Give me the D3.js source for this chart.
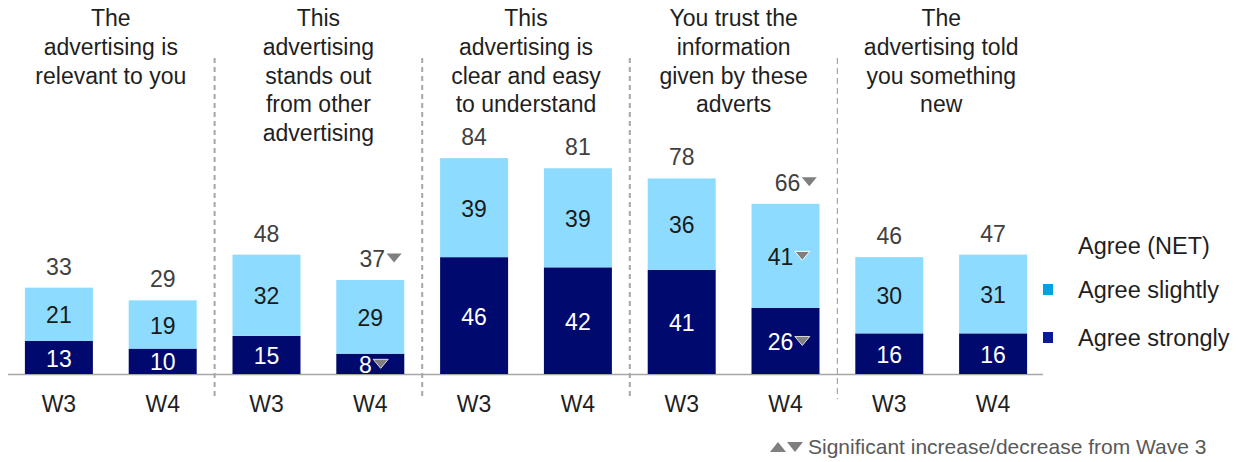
<!DOCTYPE html>
<html>
<head>
<meta charset="utf-8">
<script src="https://cdn.jsdelivr.net/npm/d3@7"></script>
<style>
  html, body { margin: 0; padding: 0; background: #fff; }
  svg { display: block; font-family: "Liberation Sans", Arial, sans-serif; }
</style>
</head>
<body>
<svg id="chart" width="1245" height="462"></svg>
<script>
// Statement titles (one line per entry)
const categories = [
  ["The", "advertising is", "relevant to you"],
  ["This", "advertising", "stands out", "from other", "advertising"],
  ["This", "advertising is", "clear and easy", "to understand"],
  ["You trust the", "information", "given by these", "adverts"],
  ["The", "advertising told", "you something", "new"]
];
const waves = ["W3", "W4"];

// Percentages per statement: [W3, W4]
const agreeStrongly = [[13, 10], [15, 8], [46, 42], [41, 26], [16, 16]];
const agreeSlightly = [[21, 19], [32, 29], [39, 39], [36, 41], [30, 31]];
const agreeNet      = [[33, 29], [48, 37], [84, 81], [78, 66], [46, 47]];

// Significance vs Wave 3 per wave: "down", "up" or null
const sigNet      = [[null, null], [null, "down"], [null, null], [null, "down"], [null, null]];
const sigSlightly = [[null, null], [null, null], [null, null], [null, "down"], [null, null]];
const sigStrongly = [[null, null], [null, "down"], [null, null], [null, "down"], [null, null]];

const legendLabels = ["Agree (NET)", "Agree slightly", "Agree strongly"];
const footnote = "Significant increase/decrease from Wave 3";

const colLight = "#8ddcff";
const colDark = "#000a6e";
const colLegendLight = "#00a3e0";
const colLegendDark = "#0a1a96";
const triColor = "#7f7f7f";

const fsTitle = 23;
const fsValue = 23;

const svg = d3.select("#chart");
const baseY = 374;

const x0 = d3.scaleBand().domain(d3.range(categories.length)).range([7, 1045]).padding(0);
const x1 = d3.scaleBand().domain(waves).range([0, x0.bandwidth()]).paddingInner(0.345).paddingOuter(0.1725);
const y = d3.scaleLinear().domain([0, 100]).range([baseY, baseY - 254]);

// Dashed separators between statements
d3.range(1, categories.length).forEach(i => {
  const xs = x0(i);
  svg.append("line")
    .attr("x1", xs).attr("x2", xs)
    .attr("y1", 58).attr("y2", 399)
    .attr("stroke", "#a6a6a6")
    .attr("stroke-width", i === 4 ? 1.2 : 2)
    .attr("stroke-dasharray", i === 4 ? "6,4" : "5,4");
});

// Baseline
svg.append("line")
  .attr("x1", 8).attr("x2", 1043)
  .attr("y1", baseY + 0.5).attr("y2", baseY + 0.5)
  .attr("stroke", "#a6a6a6").attr("stroke-width", 1.3);

// Titles
categories.forEach((lines, i) => {
  const cx = x0(i) + x0.bandwidth() / 2;
  const t = svg.append("text")
    .attr("text-anchor", "middle")
    .attr("font-size", fsTitle)
    .attr("fill", "#1f1f1f");
  lines.forEach((ln, k) => {
    t.append("tspan").attr("x", cx).attr("y", 26 + k * 28.8).text(ln);
  });
});

// Small significance triangle
function tri(g, cx, cy, dir, stroke, w = 15, h = 9) {
  const pts = dir === "down"
    ? [[cx - w / 2, cy - h / 2], [cx + w / 2, cy - h / 2], [cx, cy + h / 2]]
    : [[cx - w / 2, cy + h / 2], [cx + w / 2, cy + h / 2], [cx, cy - h / 2]];
  g.append("path")
    .attr("d", d3.line()(pts) + "Z")
    .attr("fill", triColor)
    .attr("stroke", stroke || "none")
    .attr("stroke-width", stroke ? 1 : 0);
}

// Value label with an optional trailing triangle
function valueLabel(g, cx, cy, val, fill, sig, triStroke) {
  const txt = g.append("text")
    .attr("x", cx).attr("y", cy)
    .attr("dy", "0.35em")
    .attr("text-anchor", "middle")
    .attr("font-size", fsValue)
    .attr("fill", fill)
    .text(val);
  if (sig) {
    const wTxt = txt.node().getComputedTextLength();
    tri(g, cx + wTxt / 2 + 9, cy - 1, sig, triStroke);
  }
}

categories.forEach((_, i) => {
  const g = svg.append("g");
  waves.forEach((w, j) => {
    const bx = x0(i) + x1(w);
    const bw = x1.bandwidth();
    const cx = bx + bw / 2;
    const s = agreeStrongly[i][j];
    const l = agreeSlightly[i][j];
    const n = agreeNet[i][j];

    g.append("rect")
      .attr("x", bx).attr("width", bw)
      .attr("y", y(s)).attr("height", y(0) - y(s))
      .attr("fill", colDark);
    g.append("rect")
      .attr("x", bx).attr("width", bw)
      .attr("y", y(s + l)).attr("height", y(s) - y(s + l))
      .attr("fill", colLight);

    valueLabel(g, sigStrongly[i][j] ? cx - 5 : cx, (y(0) + y(s)) / 2 + 1, s, "#ffffff", sigStrongly[i][j], "#d9d9d9");
    valueLabel(g, sigSlightly[i][j] ? cx - 5 : cx, (y(s) + y(s + l)) / 2 + 1, l, "#1a1a1a", sigSlightly[i][j], "#ffffff");
    valueLabel(g, sigNet[i][j] ? cx + 2 : cx, y(s + l) - 21, n, "#404040", sigNet[i][j]);

    g.append("text")
      .attr("x", cx).attr("y", 404)
      .attr("dy", "0.35em")
      .attr("text-anchor", "middle")
      .attr("font-size", fsTitle)
      .attr("fill", "#1f1f1f")
      .text(w);
  });
});

// Legend
const lg = svg.append("g");
lg.append("text").attr("x", 1078).attr("y", 246).attr("dy", "0.35em")
  .attr("font-size", 23.5).attr("fill", "#1f1f1f").text(legendLabels[0]);
[[legendLabels[1], colLegendLight, 290], [legendLabels[2], colLegendDark, 338]].forEach(([lab, c, yy]) => {
  lg.append("rect").attr("x", 1043).attr("y", yy - 6).attr("width", 10).attr("height", 11).attr("fill", c);
  lg.append("text").attr("x", 1078).attr("y", yy).attr("dy", "0.35em")
    .attr("font-size", 23.5).attr("fill", "#1f1f1f").text(lab);
});

// Footnote
const fn = svg.append("g");
tri(fn, 778, 447, "up", null, 16, 10);
tri(fn, 795, 447, "down", null, 16, 10);
fn.append("text").attr("x", 808).attr("y", 447).attr("dy", "0.35em")
  .attr("font-size", 21).attr("fill", "#595959").text(footnote);
</script>
</body>
</html>
